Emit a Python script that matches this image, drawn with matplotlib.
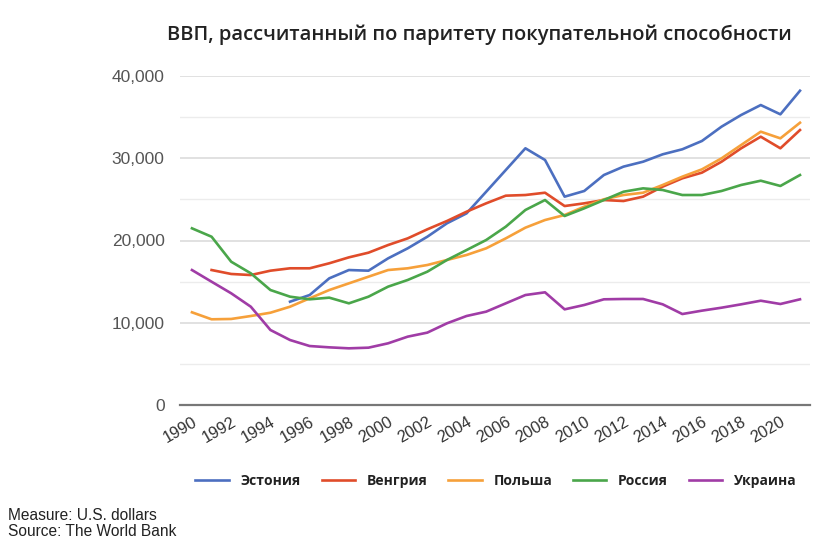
import matplotlib
matplotlib.use("Agg")
import matplotlib.pyplot as plt
from matplotlib.ticker import FuncFormatter, MultipleLocator

# ---------------- data (PPP GDP per capita, USD) ----------------
years = list(range(1990, 2022))

estonia = [None]*5 + [12560, 13370, 15400, 16410, 16330, 17830, 19050, 20460, 22090,
                      23300, 25930, 28570, 31210, 29790, 25330, 26020, 27960, 28980,
                      29580, 30480, 31090, 32100, 33840, 35260, 36470, 35340, 38210]
hungary = [None] + [16410, 15930, 15800, 16330, 16620, 16620, 17230, 17950, 18520,
                    19450, 20260, 21360, 22370, 23500, 24520, 25450, 25530, 25810,
                    24190, 24520, 24920, 24800, 25330, 26550, 27560, 28250, 29580,
                    31210, 32620, 31210, 33430]
poland = [11270, 10420, 10460, 10820, 11220, 11950, 12970, 13980, 14790, 15600,
          16410, 16620, 17020, 17630, 18240, 19050, 20260, 21560, 22490, 23100,
          24110, 25010, 25530, 25810, 26750, 27760, 28650, 29990, 31610, 33230,
          32420, 34320]
russia = [21480, 20460, 17420, 16010, 13980, 13170, 12850, 13050, 12360, 13170,
          14390, 15200, 16210, 17630, 18840, 20060, 21680, 23710, 24920, 22980,
          23910, 24920, 25930, 26340, 26140, 25530, 25530, 26020, 26750, 27270,
          26630, 27960]
ukraine = [16410, 14990, 13580, 11950, 9120, 7900, 7170, 7010, 6890, 6970,
           7500, 8310, 8800, 9930, 10820, 11350, 12360, 13370, 13700, 11630,
           12160, 12850, 12890, 12890, 12240, 11060, 11470, 11830, 12240, 12680,
           12280, 12850]

names = ["Эстония", "Венгрия", "Польша", "Россия", "Украина"]
series = [estonia, hungary, poland, russia, ukraine]
colors = ["#4c6fc0", "#e04c2a", "#f6a03a", "#4aa64a", "#a03ca6"]

title = "ВВП, рассчитанный по паритету покупательной способности"
notes = ["Measure: U.S. dollars", "Source: The World Bank"]

# ---------------- plot ----------------
fig = plt.figure(figsize=(8.18, 5.43), dpi=100)
ax = fig.add_axes([180/818, 1-405/543, 630/818, 329/543])

for vals, name, c in zip(series, names, colors):
    xs = [y for y, v in zip(years, vals) if v is not None]
    ys = [v for v in vals if v is not None]
    ax.plot(xs, ys, color=c, lw=1.9, label=name, solid_joinstyle="round")

ax.set_xlim(1989.39, 2021.51)
ax.set_ylim(0, 40000)
ax.yaxis.set_major_locator(MultipleLocator(10000))
ax.yaxis.set_minor_locator(MultipleLocator(5000))
ax.yaxis.set_major_formatter(FuncFormatter(lambda v, p: f"{int(v):,}"))
ax.set_xticks(range(1990, 2021, 2))

ax.grid(axis="y", which="major", color="#dcdcdc", lw=1.2)
ax.grid(axis="y", which="minor", color="#ececec", lw=1.0)
ax.set_axisbelow(True)
for s in ["top", "right", "left"]:
    ax.spines[s].set_visible(False)
ax.spines["bottom"].set_color("#777777")
ax.spines["bottom"].set_linewidth(1.6)
ax.tick_params(axis="both", which="both", length=0)
ax.tick_params(axis="y", pad=11, labelsize=12.5, labelcolor="#555555")
for lab in ax.get_yticklabels():
    lab.set_family("Liberation Sans")
ax.tick_params(axis="x", pad=7, labelsize=11.8, labelcolor="#333333")
for lab in ax.get_xticklabels():
    lab.set_family("Liberation Sans")
    lab.set_rotation(30)
    lab.set_ha("right")
    lab.set_rotation_mode("anchor")

fig.text(479/818, 1-35/543, title, ha="center", va="center",
         fontsize=14.5, family="Open Sans", fontweight="semibold", color="#222222")

leg = fig.legend(loc="center", bbox_to_anchor=(496/818, 1-481/543), ncol=5,
                 frameon=False, prop={"family": "Open Sans", "weight": "bold", "size": 10},
                 handlelength=2.4, handletextpad=0.85, columnspacing=1.5)
for t in leg.get_texts():
    t.set_color("#222222")

fig.text(8/818, 1-516/543, notes[0], ha="left", va="center",
         fontsize=11.2, family="Liberation Sans", color="#222222")
fig.text(8/818, 1-532/543, notes[1], ha="left", va="center",
         fontsize=11.2, family="Liberation Sans", color="#222222")

fig.savefig("out.png", dpi=100)
